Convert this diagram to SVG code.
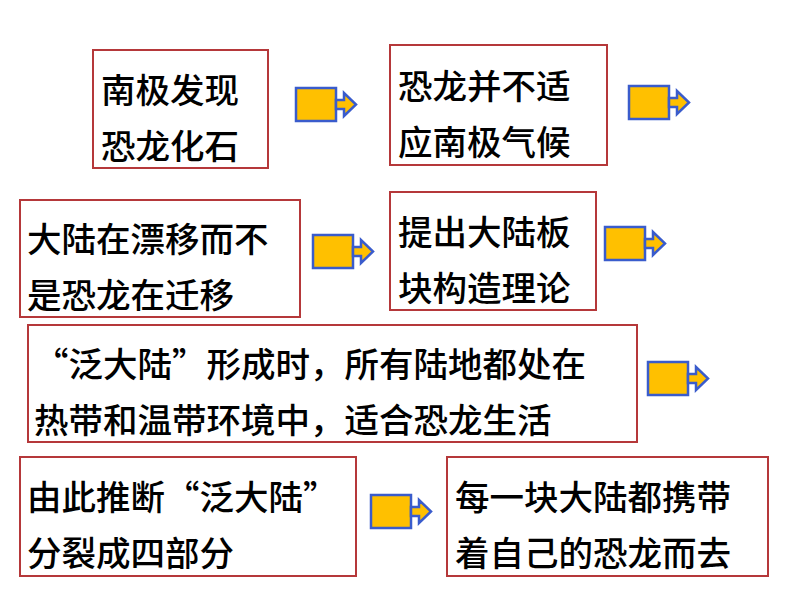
<svg xmlns="http://www.w3.org/2000/svg" width="794" height="596" viewBox="0 0 794 596">
<defs><style>
.b{fill:#fff;stroke:#b5383a;stroke-width:2}
.t{font-family:"Noto Sans CJK SC",sans-serif;font-size:34.5px;font-weight:500;fill:#000}
.a{fill:#ffc000;stroke:#3a5ccc;stroke-width:2.5;stroke-linejoin:miter}
</style>
<g id="arr"><path class="a" d="M0,0H40V33H0Z"/><path class="a" d="M40,12H48V5L60,16.5L48,28V21H40Z"/></g>
</defs>
<rect width="794" height="596" fill="#fff"/>
<g id="connectors">
<use href="#arr" x="296" y="88"/>
<use href="#arr" x="629" y="86"/>
<use href="#arr" x="313" y="235"/>
<use href="#arr" x="605" y="227"/>
<use href="#arr" x="648" y="362"/>
<use href="#arr" x="371" y="495"/>
</g>
<g id="n1"><rect class="b" x="93" y="50" width="175" height="118"/><text class="t" x="101" y="103">南极发现</text><text class="t" x="101" y="159">恐龙化石</text></g>
<g id="n2"><rect class="b" x="390" y="45" width="217" height="120"/><text class="t" x="398" y="99">恐龙并不适</text><text class="t" x="398" y="155">应南极气候</text></g>
<g id="n3"><rect class="b" x="20" y="200" width="280" height="117"/><text class="t" x="27" y="252">大陆在漂移而不</text><text class="t" x="27" y="308">是恐龙在迁移</text></g>
<g id="n4"><rect class="b" x="390" y="192" width="206" height="118"/><text class="t" x="398" y="245">提出大陆板</text><text class="t" x="398" y="301">块构造理论</text></g>
<g id="n5"><rect class="b" x="28" y="325" width="609" height="117"/><text class="t" x="34" y="377">“泛大陆”形成时，所有陆地都处在</text><text class="t" x="34" y="433">热带和温带环境中，适合恐龙生活</text></g>
<g id="n6"><rect class="b" x="20" y="457" width="336" height="119"/><text class="t" x="27" y="510">由此推断“泛大陆”</text><text class="t" x="27" y="566">分裂成四部分</text></g>
<g id="n7"><rect class="b" x="447" y="457" width="321" height="119"/><text class="t" x="455" y="510">每一块大陆都携带</text><text class="t" x="455" y="566">着自己的恐龙而去</text></g>
</svg>
